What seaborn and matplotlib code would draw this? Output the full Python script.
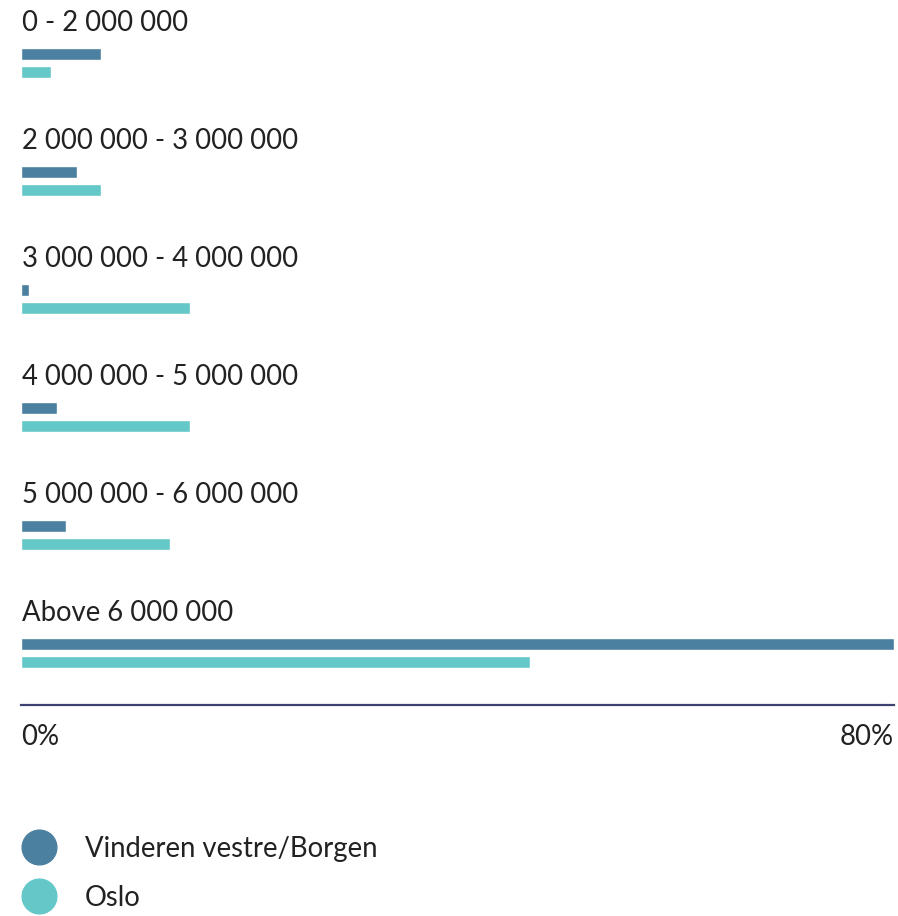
import pandas as pd
import seaborn as sns
import matplotlib.pyplot as plt
from matplotlib.lines import Line2D

bands = ['0 - 2 000 000', '2 000 000 - 3 000 000', '3 000 000 - 4 000 000',
         '4 000 000 - 5 000 000', '5 000 000 - 6 000 000', 'Above 6 000 000']
vinderen = [7.3, 5.1, 0.7, 3.3, 4.1, 80.0]
oslo = [2.75, 7.3, 15.5, 15.5, 13.65, 46.6]
series = ['Vinderen vestre/Borgen', 'Oslo']
colors = ['#4b80a0', '#64c8c8']
tick_vals = [0, 80]
tick_labels = ['0%', '80%']

df = pd.DataFrame({
    'band': bands * 2,
    'share': vinderen + oslo,
    'area': [series[0]] * len(bands) + [series[1]] * len(bands),
})

sns.set_style('white')
plt.rcParams['font.family'] = ['Lato', 'DejaVu Sans']
text_col = '#222222'
fs = 19.8

fig = plt.figure(figsize=(8.98, 9.16), dpi=100)
ax = fig.add_axes([21 / 898, 1 - 705 / 916, (894 - 21) / 898, 705 / 916])

sns.barplot(data=df, y='band', x='share', hue='area', palette=colors, orient='h',
            width=0.305, gap=0.32, saturation=1, legend=False, ax=ax)

# category labels sit above each pair of bars
for i, b in enumerate(bands):
    ax.text(0.05, i - 0.271, b, ha='left', va='baseline', fontsize=fs, color=text_col)

ax.set_xlim(0, 80)
ax.set_ylim(5.44, -0.534)
ax.set_xlabel('')
ax.set_ylabel('')
ax.set_yticks([])
ax.set_xticks(tick_vals, tick_labels)
labs = ax.get_xticklabels()
labs[0].set_ha('left')
labs[1].set_ha('right')
ax.tick_params(axis='x', length=0, pad=14, labelsize=fs, labelcolor=text_col)
for s in ['top', 'right', 'left']:
    ax.spines[s].set_visible(False)
ax.spines['bottom'].set_color('#3d4270')
ax.spines['bottom'].set_linewidth(1.6)

handles = [Line2D([], [], marker='o', linestyle='', markersize=25, color=c) for c in colors]
fig.legend(handles, series, loc='upper left', bbox_to_anchor=(11 / 898, 1 - 836 / 916),
           frameon=False, borderpad=0, borderaxespad=0, fontsize=fs, labelcolor=text_col,
           handlelength=2, handletextpad=0.68, labelspacing=0.82)

fig.savefig('out.png', dpi=100)
